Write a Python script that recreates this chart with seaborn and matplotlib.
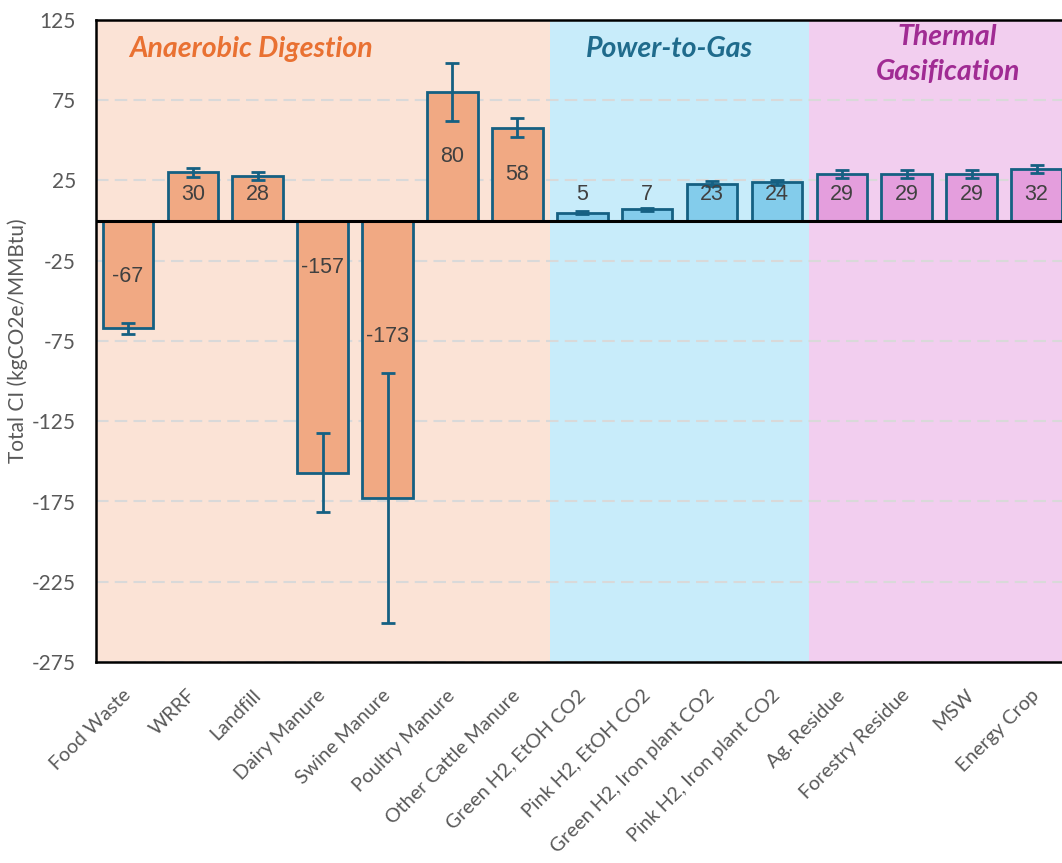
import numpy as np
import pandas as pd
import matplotlib
matplotlib.use("Agg")
import matplotlib.pyplot as plt
import seaborn as sns

# Pathway feedstocks and their carbon intensity
categories = ["Food Waste", "WRRF", "Landfill", "Dairy Manure", "Swine Manure",
              "Poultry Manure", "Other Cattle Manure",
              "Green H2, EtOH CO2", "Pink H2, EtOH CO2",
              "Green H2, Iron plant CO2", "Pink H2, Iron plant CO2",
              "Ag. Residue", "Forestry Residue", "MSW", "Energy Crop"]
groups = ["Anaerobic Digestion"] * 7 + ["Power-to-Gas"] * 4 + ["Thermal Gasification"] * 4
values = [-67, 30, 28, -157, -173, 80, 58, 5, 7, 23, 24, 29, 29, 29, 32]
errors = [3.5, 3, 2.5, 24.5, 78, 18, 6, 1, 1, 1.5, 1.5, 2.7, 2.5, 2.7, 2.5]
yticks = [125, 75, 25, -25, -75, -125, -175, -225, -275]

# Vertical anchor of each value label (data units)
label_y = [-35, 16, 16, -29, -72, 40, 29, 16, 16, 16, 16, 16, 16, 16, 16]

bar_colors = {"Anaerobic Digestion": "#F1A983",
              "Power-to-Gas": "#83CCEB",
              "Thermal Gasification": "#E49EDD"}
band_colors = {"Anaerobic Digestion": "#FBE3D6",
               "Power-to-Gas": "#C8ECFA",
               "Thermal Gasification": "#F2CEEF"}
title_colors = {"Anaerobic Digestion": "#E97132",
                "Power-to-Gas": "#1F6B8C",
                "Thermal Gasification": "#A02B93"}
edge = "#156082"
grey = "#595959"

df = pd.DataFrame({"category": categories, "value": values, "group": groups})

sns.set_style("white")
plt.rcParams["font.family"] = ["Lato", "DejaVu Sans"]
plt.rcParams["axes.unicode_minus"] = False

fig = plt.figure(figsize=(10.62, 8.63), dpi=100)
ax = fig.add_axes([95.5 / 1062, 201 / 863, (1069 - 95.5) / 1062, 642 / 863])
ax.set_facecolor("none")

# Coloured bands behind each pathway group
start = 0
for g in ["Anaerobic Digestion", "Power-to-Gas", "Thermal Gasification"]:
    n = groups.count(g)
    ax.axvspan(start - 0.5, start + n - 0.5, color=band_colors[g], zorder=0, lw=0)
    start += n

ax.set_ylim(-275, 125)
ax.set_yticks(yticks)
ax.yaxis.grid(True, color="#D9D9D9", linewidth=1.5, dashes=(6, 3), zorder=0.5)
ax.set_axisbelow(True)

sns.barplot(data=df, x="category", y="value", hue="group", palette=bar_colors,
            dodge=False, width=0.78, edgecolor=edge, linewidth=2, saturation=1,
            legend=False, ax=ax, zorder=2)

x = np.arange(len(categories))
ax.errorbar(x, values, yerr=errors, fmt="none", ecolor=edge, elinewidth=2,
            capsize=5, capthick=2, zorder=4)

ax.axhline(0, color="black", linewidth=2.2, zorder=3)
ax.set_xlim(-0.5, len(categories) - 0.5)

for xi, v, ly in zip(x, values, label_y):
    ax.text(xi, ly, f"{v}", ha="center", va="center", fontsize=15.5,
            color="#404040", family="Liberation Sans", zorder=5)

# Group headings
head = dict(ha="center", va="center", fontsize=20.5, fontweight="bold",
            fontstyle="italic")
ax.text(1.9, 107, "Anaerobic Digestion", color=title_colors["Anaerobic Digestion"], **head)
ax.text(8.35, 107, "Power-to-Gas", color=title_colors["Power-to-Gas"], **head)
ax.text(12.63, 103.5, "Thermal\nGasification", linespacing=1.45,
        color=title_colors["Thermal Gasification"], **head)

for s in ax.spines.values():
    s.set_color("black")
    s.set_linewidth(1.8)

ax.set_xlabel("")
ax.set_ylabel("")
ax.tick_params(axis="both", length=0, colors=grey, labelsize=15)
ax.tick_params(axis="y", pad=14)
ax.set_xticks(x)
ax.set_xticklabels(categories, rotation=45, ha="right", va="center",
                   rotation_mode="anchor", fontsize=14.2, color=grey)
ax.tick_params(axis="x", pad=22)

fig.text(18 / 1062, 1 - 341 / 863, "Total CI (kgCO2e/MMBtu)", rotation=90,
         ha="center", va="center", fontsize=15, color=grey)

fig.savefig("out.png", dpi=100)
